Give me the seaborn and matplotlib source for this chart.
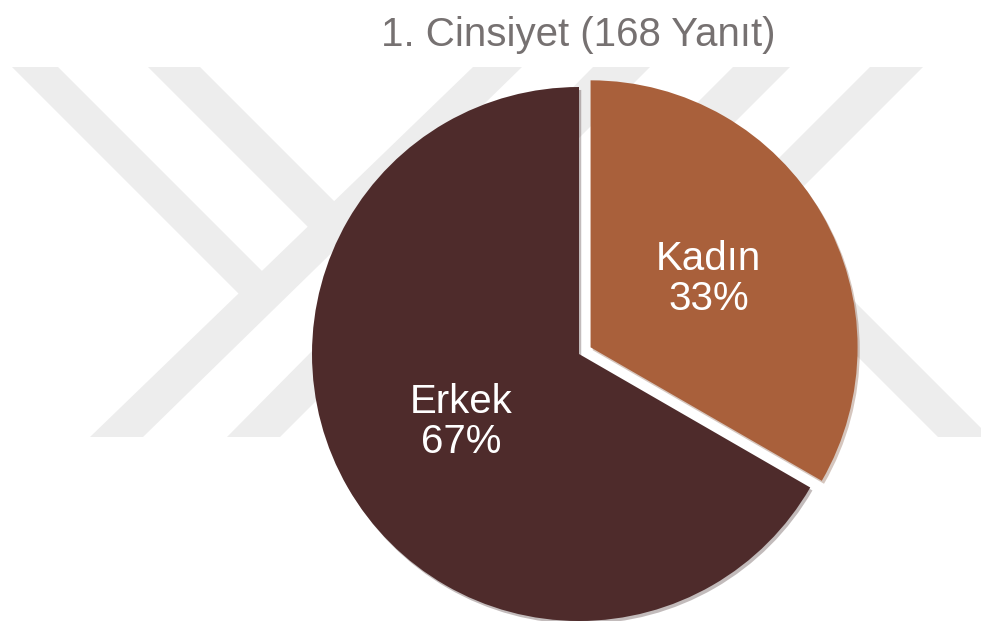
import matplotlib
matplotlib.use("Agg")
import matplotlib.pyplot as plt
from matplotlib.patches import Polygon
import seaborn as sns

categories = ["Kadın", "Erkek"]
counts = [56, 112]
title = "1. Cinsiyet (168 Yanıt)"
colors = ["#A9603B", "#4E2B2B"]

sns.set_theme(style="white")
plt.rcParams['font.family'] = ['Liberation Sans', 'DejaVu Sans']

W, H = 981, 621
fig = plt.figure(figsize=(W / 100, H / 100), dpi=100)

# ---- faint background watermark (pixel coordinates, y downward) ----
bg = fig.add_axes([0, 0, 1, 1], zorder=0)
bg.set_xlim(0, W)
bg.set_ylim(H, 0)
bg.axis("off")
YT, YB = 67, 437
WM = "#EDEDED"


def isect(p, d, q, e):
    # intersection of lines p + t*d and q + s*e
    den = d[0] * e[1] - d[1] * e[0]
    t = ((q[0] - p[0]) * e[1] - (q[1] - p[1]) * e[0]) / den
    return (p[0] + t * d[0], p[1] + t * d[1])


def full_band(xb0, xb1, xt0, xt1):
    return [(xb0, YB), (xb1, YB), (xt1, YT), (xt0, YT)]


def band_center(xb0, xb1, xt0, xt1):
    p = ((xb0 + xb1) / 2, YB)
    q = ((xt0 + xt1) / 2, YT)
    return p, (q[0] - p[0], q[1] - p[1])


def ending_band(x0, x1, y0, d, stop):
    sp, sd = stop
    a = isect((x0, y0), d, sp, sd)
    b = isect((x1, y0), d, sp, sd)
    return [(x0, y0), (x1, y0), b, a]


A = (90, 143, 473, 522)
B = (227, 280, 593, 650)
polys = [full_band(*A), full_band(*B)]
Ac = band_center(*A)
polys.append(ending_band(12, 58, YT, (1, 1), Ac))
polys.append(ending_band(148, 200, YT, (1, 1), Ac))
# right side
E_top = (733, 790)
Ec = (((E_top[0] + E_top[1]) / 2, YT), (-1, 1))
G = ending_band(938, 990, YB, (-1, -1), Ec)
polys.append(G)
Gc = (((938 + 990) / 2, YB), (-1, -1))
polys.append(ending_band(E_top[0], E_top[1], YT, (-1, 1), Gc))
polys.append(ending_band(870, 923, YT, (-1, 1), Gc))
for pts in polys:
    bg.add_patch(Polygon(pts, closed=True, facecolor=WM, edgecolor="none"))

# ---- pie ----
cx, cy, r = 579, H - 354, 267
half = 300
ax = fig.add_axes([(cx - half) / W, (cy - half) / H, 2 * half / W, 2 * half / H], zorder=1)
ax.patch.set_alpha(0)

wedges, texts, autotexts = ax.pie(
    counts,
    labels=None,
    colors=colors,
    startangle=90,
    counterclock=False,
    explode=[0.05, 0.0],
    autopct=lambda p: "",
    pctdistance=0.51,
    shadow=dict(ox=0.006, oy=-0.008, shade=0.3, alpha=0.3),
    wedgeprops=dict(linewidth=0),
)
total = sum(counts)
for cat, c, t in zip(categories, counts, autotexts):
    t.set_text(f"{cat}\n{round(100 * c / total)}%")
    t.set_color("white")
    t.set_fontsize(29)
    t.set_linespacing(1.08)
    t.set_ha("center")
    t.set_va("center")

lim = half / r
ax.set_xlim(-lim, lim)
ax.set_ylim(-lim, lim)
ax.set_aspect("equal")
ax.axis("off")

fig.text(578 / W, 1 - 35 / H, title, ha="center", va="center", fontsize=29,
         color="#767171", zorder=3)

fig.savefig("out.png", dpi=100, facecolor="white")
